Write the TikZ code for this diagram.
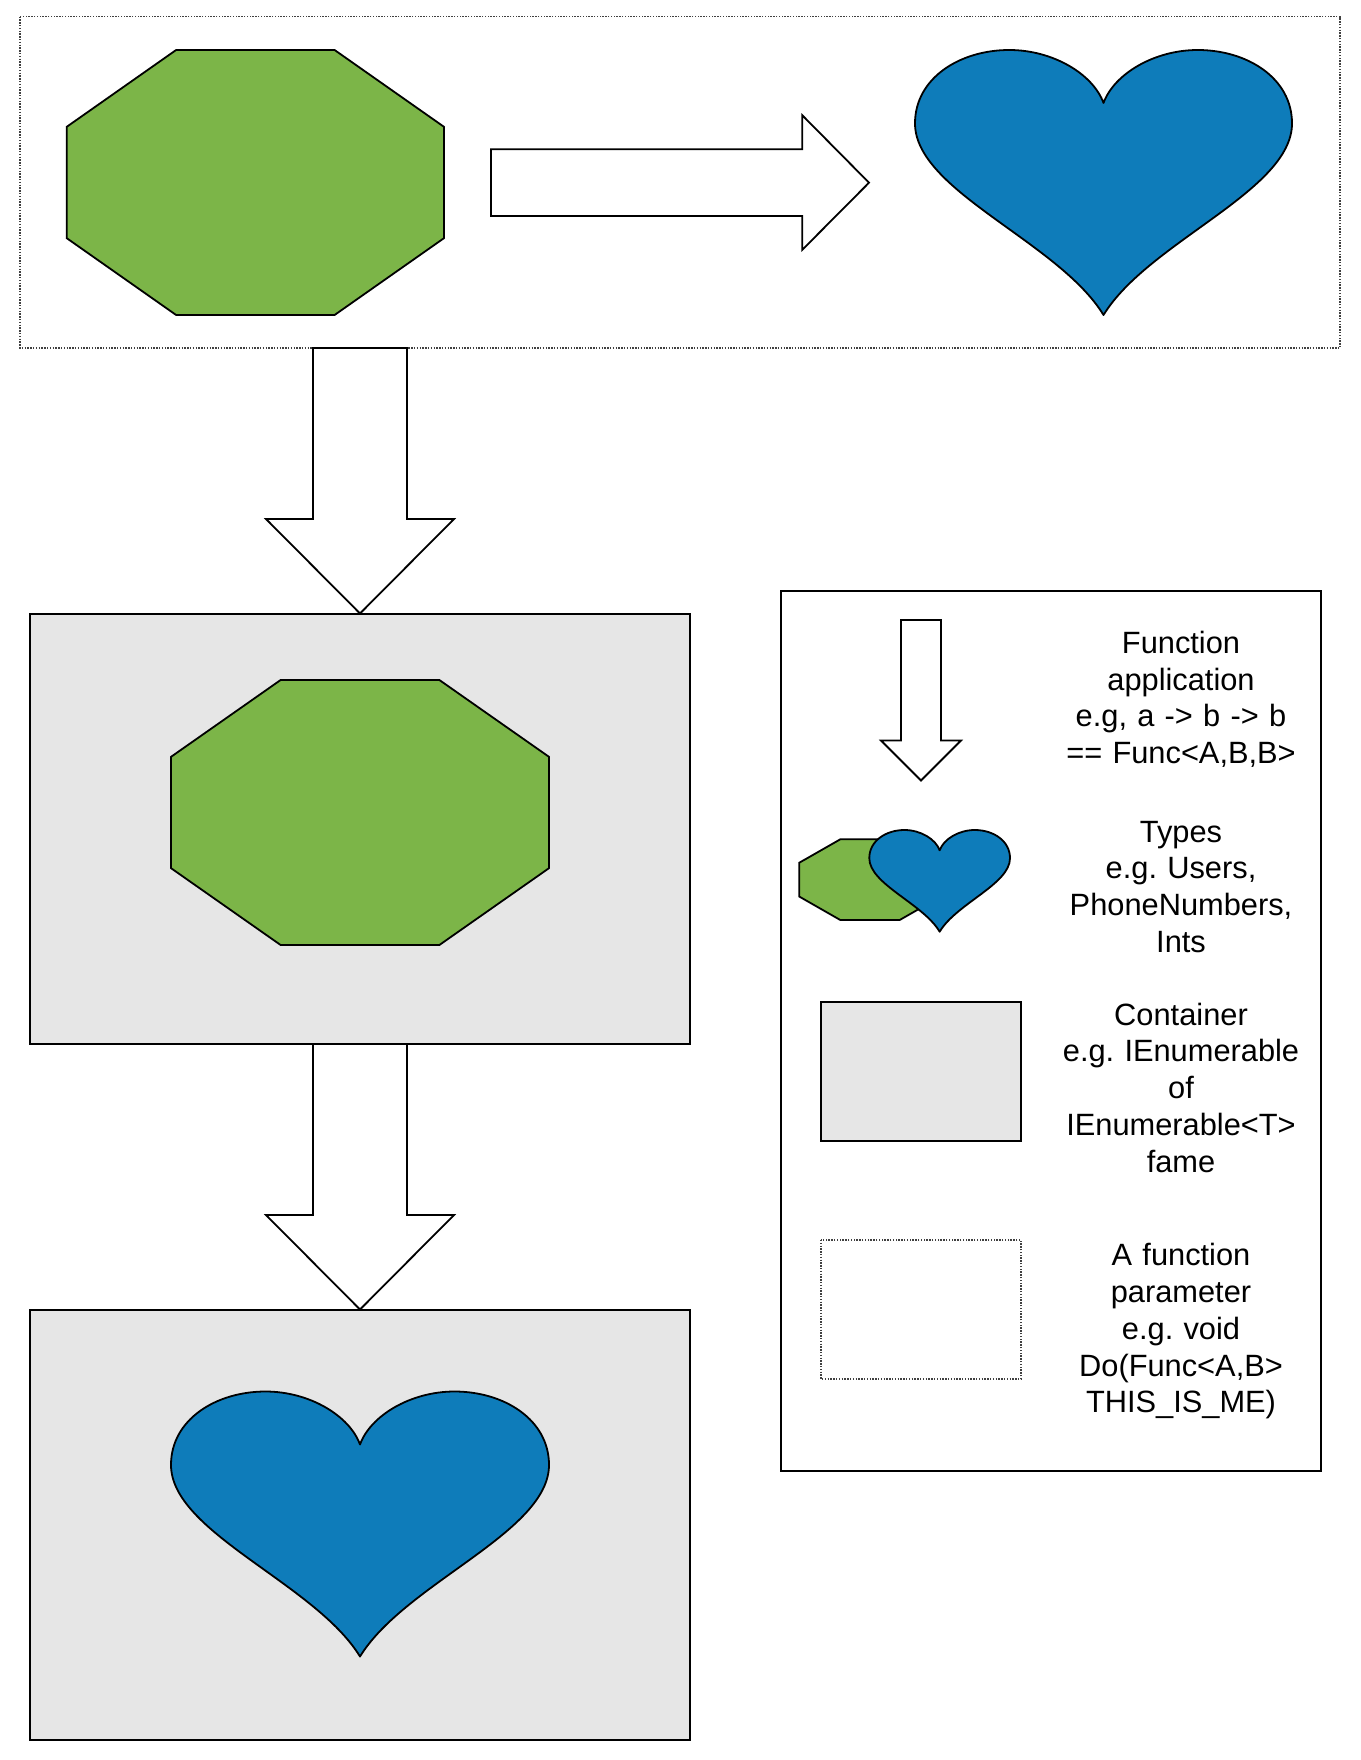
\documentclass[tikz,border=0pt]{standalone}
\usepackage{fontspec}
\setmainfont{Liberation Sans}
\frenchspacing
\definecolor{octgreen}{HTML}{7CB548}
\definecolor{heartblue}{HTML}{0E7CBA}
\definecolor{contgray}{HTML}{E6E6E6}
\newcommand{\drawheart}[4]{%
  \begin{scope}[shift={(#1,#2)},xscale=#3,yscale=#4]
    \draw[heartshape] (0.5,1) .. controls (0.381,0.723) and (0,0.532) .. (0,0.277)
      .. controls (0,0.106) and (0.119,0) .. (0.25,0)
      .. controls (0.365,0) and (0.472,0.09) .. (0.5,0.2)
      .. controls (0.528,0.09) and (0.635,0) .. (0.75,0)
      .. controls (0.881,0) and (1,0.106) .. (1,0.277)
      .. controls (1,0.532) and (0.619,0.723) .. (0.5,1) -- cycle;
  \end{scope}}
\newcommand{\drawocto}[4]{%
  \begin{scope}[shift={(#1,#2)},xscale=#3,yscale=#4]
    \draw[octo] (0.29,0) -- (0.71,0) -- (1,0.29) -- (1,0.71) -- (0.71,1)
      -- (0.29,1) -- (0,0.71) -- (0,0.29) -- cycle;
  \end{scope}}
\begin{document}
\begin{tikzpicture}[x=1pt,y=-1pt,
  outl/.style={draw=black,line width=1.8pt,line join=miter},
  octo/.style={outl,fill=octgreen},
  heartshape/.style={outl,fill=heartblue,line join=round},
  blockarrow/.style={outl,fill=white},
  contbox/.style={draw=black,line width=2pt,fill=contgray},
  legbox/.style={draw=black,line width=2pt,fill=white},
  paramframe/.style={draw=black!75,line width=1.2pt,dash pattern=on 1.4pt off 1.4pt},
  legtext/.style={inner sep=0pt,text width=320pt,align=center,anchor=base,
    font=\fontsize{30.8}{36.8}\selectfont}]
\useasboundingbox (0,0) rectangle (1360,1760);
% top function-parameter frame
\draw[paramframe] (20,16.7) rectangle (1340,348);
\drawocto{66.7}{50}{377.3}{265}
\draw[blockarrow] (491,149.3) -- (802.3,149.3) -- (802.3,115.3) -- (869,182.7)
  -- (802.3,249.8) -- (802.3,216) -- (491,216) -- cycle;
\drawheart{915}{50}{377}{265}
% first down arrow
\draw[blockarrow] (313,348) -- (407,348) -- (407,519) -- (454,519) -- (360,613.5)
  -- (266,519) -- (313,519) -- cycle;
% container 1
\draw[contbox] (30,613.5) rectangle (690,1044);
\drawocto{171}{680}{378}{265}
% second down arrow
\draw[blockarrow] (313,1044) -- (407,1044) -- (407,1215) -- (454,1215) -- (360,1309.5)
  -- (266,1215) -- (313,1215) -- cycle;
% container 2
\draw[contbox] (30,1309.5) rectangle (690,1740);
\drawheart{171}{1391.5}{378}{265}
% legend
\draw[legbox] (781,591) rectangle (1321,1471);
\draw[blockarrow] (901,620) -- (941,620) -- (941,740.5) -- (961,740.5) -- (921,780.5)
  -- (881,740.5) -- (901,740.5) -- cycle;
\drawocto{799.3}{839.3}{141.4}{80.7}
\drawheart{869.3}{830}{140.7}{101.7}
\draw[contbox] (821,1002) rectangle (1021,1141);
\draw[paramframe] (821,1240) rectangle (1021,1379);
\node[legtext] (tfunc) at (1181,653.3) {Function\\application\\e.g, a -> b -> b\\== Func<A,B,B>};
\node[legtext] (ttypes) at (1181,842) {Types\\e.g. Users,\\PhoneNumbers,\\Ints};
\node[legtext] (tcont) at (1181,1025) {Container\\e.g. IEnumerable\\of\\IEnumerable<T>\\fame};
\node[legtext] (tparam) at (1181,1265.7) {A function\\parameter\\e.g. void\\Do(Func<A,B>\\THIS\_IS\_ME)};
\end{tikzpicture}
\end{document}
